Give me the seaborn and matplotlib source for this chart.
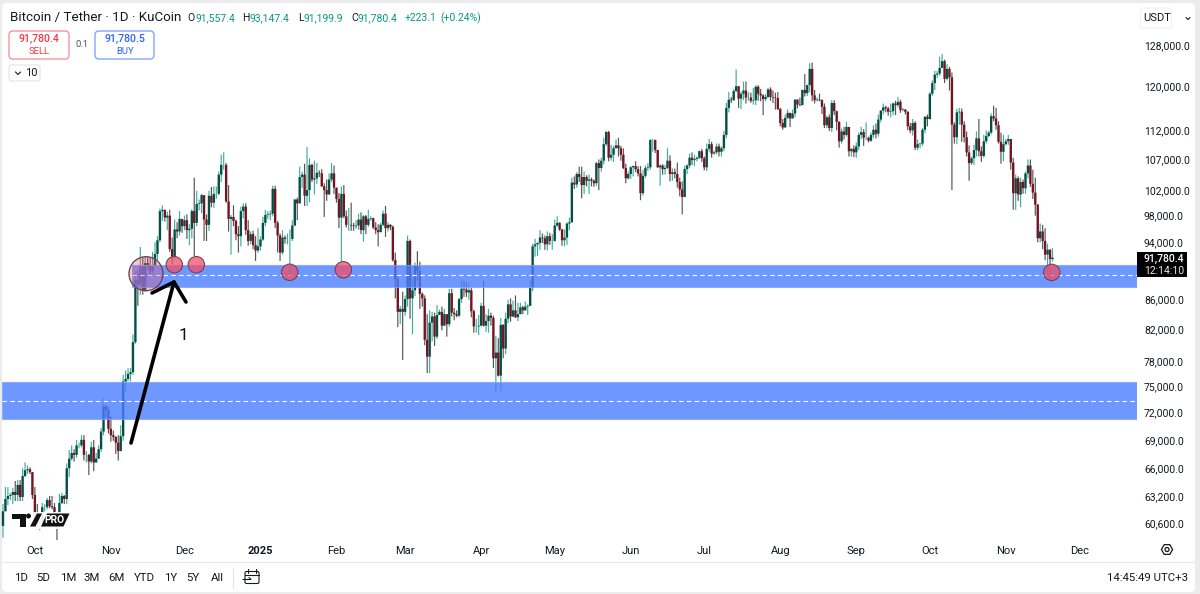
import numpy as np
import pandas as pd
import matplotlib
matplotlib.use("Agg")
import matplotlib.pyplot as plt
from matplotlib.patches import Rectangle, Circle, FancyBboxPatch, Polygon
import seaborn as sns

# Daily BTC/USDT closes, highs and lows in thousands of USDT, grouped by month
close_2024_sep = [61.7,62.9,63.2,63.3,63.6,63.3,64.3,63.1,65.2,65.8,65.9,65.6,63.3]
high_2024_sep = [62.4,64.1,64.1,63.5,64.0,64.7,64.8,64.8,66.0,66.6,66.3,66.1,65.6]
low_2024_sep = [59.2,61.7,62.3,62.8,62.4,62.7,62.7,62.7,62.7,65.1,65.4,65.4,62.9]

close_2024_oct = [60.8,60.6,60.7,62.1,62.1,62.8,62.2,62.1,60.6,60.3,62.5,63.2,62.9,66.0,67.0,67.6,67.4,68.4,68.4,69.0,67.4,67.4,66.7,68.2,66.6,67.0,68.0,69.9,72.7,72.3,70.2]
high_2024_oct = [64.1,62.4,61.5,62.5,62.4,63.0,63.2,63.2,62.5,61.3,63.4,63.5,63.3,66.5,67.9,68.4,68.0,69.0,68.7,69.5,69.5,67.8,67.5,68.8,69.0,67.6,68.4,70.3,73.6,72.9,72.7]
low_2024_oct = [60.2,60.0,59.9,60.4,61.7,61.9,62.0,61.9,60.3,58.9,60.3,62.4,62.4,62.4,65.1,66.8,66.7,67.1,68.1,68.2,66.8,66.6,65.3,66.5,65.7,66.7,67.4,67.7,69.5,71.5,69.7]

close_2024_nov = [69.5,69.3,68.7,67.8,69.4,75.6,75.9,76.5,76.7,80.4,88.6,88.0,90.5,87.2,91.0,90.6,89.8,90.5,92.3,94.3,98.7,98.9,97.7,98.0,93.0,91.9,95.9,95.6,97.5,96.4]
high_2024_nov = [71.6,70.0,69.4,69.5,70.6,76.4,76.9,77.2,77.2,81.4,89.6,90.0,93.3,91.8,91.9,91.8,91.7,92.6,94.0,94.9,99.1,99.6,98.9,98.6,98.9,94.7,97.4,97.0,98.7,97.4]
low_2024_nov = [68.8,68.9,67.5,66.8,67.8,68.9,74.4,75.6,75.6,76.4,80.2,85.1,86.6,86.6,87.0,90.0,89.3,89.4,90.9,91.4,94.0,97.2,97.1,95.8,92.6,90.8,91.5,94.6,95.0,95.4]

close_2024_dec = [97.3,95.8,96.0,98.7,96.9,99.8,99.9,101.2,97.4,96.6,101.1,100.0,101.4,101.4,104.5,106.1,106.1,100.2,97.5,97.8,97.2,95.2,94.9,98.7,99.4,95.8,94.2,95.2,93.6,92.8,93.4]
high_2024_dec = [98.0,98.2,96.7,99.0,104.0,101.9,100.5,101.4,101.2,98.2,101.9,102.5,102.6,102.6,105.0,107.8,108.2,106.4,102.8,98.1,99.6,97.4,96.4,99.4,99.9,99.9,97.3,95.6,95.7,94.9,96.1]
low_2024_dec = [95.8,94.5,93.6,94.6,92.0,96.4,98.8,98.4,94.2,94.2,95.7,99.3,99.2,100.6,101.2,103.3,105.3,100.0,95.6,92.2,96.4,94.3,92.5,93.4,97.6,95.1,93.5,93.7,93.0,91.3,92.5]

close_2025_jan = [94.4,96.9,98.1,98.2,98.3,102.2,96.9,95.0,92.5,94.7,94.5,94.5,94.5,96.5,100.5,99.9,104.1,104.5,101.1,102.0,106.1,103.7,103.9,104.8,104.7,102.6,102.0,101.3,103.7,104.7,102.4]
high_2025_jan = [94.9,97.8,98.9,98.7,98.8,102.7,102.7,97.2,95.3,95.8,95.0,95.3,95.9,97.3,100.6,100.8,105.8,105.0,106.3,109.1,107.2,106.3,106.8,106.4,105.2,105.4,103.1,103.7,104.7,106.4,106.0]
low_2025_jan = [92.8,94.2,96.4,97.5,97.3,97.9,96.1,92.5,91.3,92.2,93.8,93.7,89.3,94.2,96.4,97.3,99.9,102.3,99.5,99.5,100.1,103.3,101.3,103.0,104.1,102.5,97.8,100.3,101.3,103.3,101.4]

close_2025_feb = [100.6,97.7,101.4,97.9,96.6,96.6,96.5,96.4,96.5,97.4,95.8,97.9,96.6,97.5,97.6,96.2,95.8,95.5,96.6,98.3,96.1,96.6,96.3,91.4,88.7,84.3,84.7,84.3]
high_2025_feb = [102.0,101.5,102.6,102.8,98.8,99.2,100.0,96.9,97.3,98.3,98.5,98.1,98.1,98.9,97.9,97.7,97.0,96.7,96.9,98.8,99.5,97.0,96.7,96.5,92.5,89.4,85.1,87.0]
low_2025_feb = [100.0,96.1,91.2,97.6,96.2,95.7,95.7,95.7,96.0,95.9,95.2,94.1,95.2,96.3,97.2,96.0,95.2,93.4,95.5,96.4,94.8,95.6,95.8,91.2,86.1,82.3,82.7,78.2]

close_2025_mar = [86.0,94.2,86.1,87.2,90.6,89.9,86.7,86.1,80.7,78.6,82.9,83.7,81.1,83.9,84.3,82.5,84.0,82.7,86.8,84.2,84.0,83.8,86.0,87.4,87.3,86.9,87.2,84.4,82.4,82.4,82.5]
high_2025_mar = [86.5,95.0,94.4,88.9,91.1,92.7,91.2,86.9,86.5,84.0,84.5,84.3,84.2,85.2,84.6,85.0,84.7,84.0,87.4,87.4,84.8,84.5,86.2,88.7,88.5,88.3,88.0,87.5,84.6,83.4,83.9]
low_2025_mar = [83.8,85.0,83.4,81.4,86.4,88.5,84.7,85.0,80.0,76.6,76.6,80.5,79.9,80.8,83.9,81.9,82.5,81.1,82.4,83.7,83.2,83.6,83.6,85.5,86.3,86.3,85.9,83.6,81.6,81.6,81.3]

close_2025_apr = [85.1,82.5,83.1,83.8,83.5,78.4,79.1,76.3,82.6,79.6,83.4,85.3,83.7,84.5,83.6,84.0,84.9,84.5,85.0,85.1,87.5,93.4,93.7,93.9,94.7,94.6,93.7,94.9,94.2,94.2]
high_2025_apr = [85.5,88.5,84.0,84.7,84.2,83.8,81.2,80.9,83.5,82.7,84.2,85.9,86.1,85.8,86.5,85.5,85.5,85.1,85.7,85.3,88.5,93.8,94.5,94.0,95.8,95.3,95.0,95.6,95.4,95.2]
low_2025_apr = [82.4,82.4,81.7,81.6,82.5,77.2,74.4,76.2,74.5,78.4,78.9,82.8,83.0,83.6,83.5,83.1,84.1,84.0,84.5,83.9,85.1,87.1,91.9,92.0,92.9,93.9,92.9,92.8,93.6,92.9]

close_2025_may = [96.5,96.9,95.9,94.3,94.7,96.8,97.0,103.2,102.9,104.6,104.1,102.8,104.1,103.5,103.7,103.5,103.1,106.4,105.6,106.8,109.6,111.7,107.3,107.8,108.9,109.4,108.9,107.8,105.6,103.9,104.6]
high_2025_may = [97.4,97.9,97.0,96.0,95.9,97.0,97.7,104.0,104.2,104.9,105.8,105.8,105.0,104.4,104.5,104.0,103.7,106.6,107.0,107.3,110.7,111.9,111.9,109.5,109.3,110.4,110.7,109.3,108.9,106.3,105.0]
low_2025_may = [94.1,96.3,95.7,93.5,93.4,93.6,95.8,96.9,102.2,102.4,103.3,100.7,101.4,102.6,101.4,102.6,102.5,102.7,102.0,105.0,106.2,109.3,106.7,106.8,106.6,108.9,107.5,106.8,105.4,103.1,103.7]

close_2025_jun = [105.7,105.9,105.4,104.7,101.5,104.3,105.6,105.7,110.3,110.3,108.6,105.7,106.0,105.4,105.6,106.8,104.6,104.9,104.6,103.3,102.1,100.9,105.4,106.0,107.3,106.9,107.1,107.3,108.4,107.2]
high_2025_jun = [105.9,106.0,106.7,105.9,105.9,105.3,106.0,106.4,110.5,110.5,110.4,108.5,106.2,106.2,106.1,108.9,107.7,105.5,105.5,106.5,104.0,103.4,106.0,106.2,108.0,108.2,107.8,107.5,108.5,108.8]
low_2025_jun = [103.8,104.2,104.9,104.2,100.4,101.1,104.0,105.1,105.3,108.3,108.1,105.6,102.7,104.5,104.5,105.4,103.4,103.5,103.9,102.4,101.0,98.2,100.9,104.6,105.6,106.1,105.9,106.7,107.1,106.6]

close_2025_jul = [105.7,108.8,109.6,108.0,108.2,109.2,108.3,108.9,111.2,116.0,117.5,117.4,119.1,120.0,117.7,118.6,119.2,117.9,117.9,117.3,117.4,119.9,118.6,118.3,117.6,118.0,119.4,118.0,117.9,117.8,115.8]
high_2025_jul = [107.5,109.7,110.5,110.0,108.5,109.7,109.7,109.2,111.9,116.9,118.9,118.0,119.5,123.2,120.0,119.0,120.9,120.9,118.9,118.8,119.7,120.2,120.2,119.5,118.5,118.5,119.7,119.8,119.2,118.8,118.9]
low_2025_jul = [105.2,105.1,108.3,107.3,107.8,107.9,107.5,107.5,108.4,110.6,115.2,116.9,117.3,118.9,116.0,115.8,117.4,116.8,117.3,116.9,116.6,116.5,117.3,117.2,114.7,117.2,117.8,117.3,116.9,115.7,115.6]

close_2025_aug = [113.3,112.5,114.2,115.1,114.1,115.0,117.5,116.6,116.5,119.3,118.7,120.2,123.3,118.3,117.4,117.5,117.4,116.2,112.9,114.3,112.4,116.9,115.4,113.5,110.1,111.8,111.2,112.6,108.4,108.8,108.2]
high_2025_aug = [116.0,114.0,114.8,115.7,115.1,115.7,117.6,117.6,117.9,119.4,122.3,120.3,124.4,124.5,119.3,117.9,118.6,117.6,116.8,114.6,114.8,117.4,117.4,115.5,113.6,112.3,112.6,113.5,112.6,108.9,109.4]
low_2025_aug = [112.7,112.1,112.7,114.0,112.6,114.3,114.3,115.9,116.3,116.6,118.1,118.2,118.9,117.2,116.8,117.2,117.2,114.9,112.4,112.4,111.9,111.7,114.7,112.0,109.0,109.7,110.4,110.9,107.5,107.5,107.4]

close_2025_sep = [109.2,111.2,111.7,110.7,110.7,110.2,111.2,112.1,111.4,113.9,115.5,116.1,115.9,115.3,115.4,116.8,116.5,117.1,115.6,115.7,115.3,112.7,112.0,113.3,109.0,109.6,109.7,112.1,114.4,114.0]
high_2025_sep = [109.9,111.6,112.6,112.2,113.4,110.9,111.6,112.9,113.2,114.8,115.6,116.8,116.4,116.2,116.8,117.0,117.3,118.0,117.5,116.0,115.8,115.4,113.3,114.0,113.6,110.4,109.8,112.4,114.5,114.8]
low_2025_sep = [107.3,108.6,110.5,109.3,110.3,109.9,110.0,110.7,110.6,110.9,113.4,114.8,115.2,114.6,114.3,114.7,114.7,116.1,115.1,115.4,114.8,112.0,111.5,111.1,108.6,108.6,108.9,109.3,111.5,112.7]

close_2025_oct = [118.6,120.6,122.2,122.4,123.5,124.8,121.4,123.3,121.7,113.0,110.8,115.2,115.3,113.0,110.8,108.2,106.4,107.2,108.6,110.6,108.4,107.6,110.1,111.0,111.6,114.5,114.1,112.9,110.0,108.3,109.6]
high_2025_oct = [118.9,121.1,122.9,122.9,125.7,126.2,125.1,124.2,123.7,122.6,113.4,115.8,116.0,115.9,113.6,111.8,109.4,107.5,109.5,111.8,114.0,109.2,111.2,112.0,111.9,115.0,116.4,116.0,113.6,111.6,111.2]
low_2025_oct = [113.9,118.2,119.3,121.6,122.0,123.9,120.6,121.1,119.2,102.0,109.7,109.6,113.0,110.0,109.9,107.5,103.5,106.1,106.1,107.5,107.5,106.6,107.3,109.7,110.8,111.3,113.6,112.1,109.7,106.3,106.7]

close_2025_nov = [110.1,110.5,106.5,101.5,103.9,101.3,103.3,102.3,104.7,106.0,103.0,101.6,99.7,94.6,95.6,94.2,92.2,92.9,91.5574,91.7804]
high_2025_nov = [110.5,111.2,110.5,107.3,104.5,104.2,104.0,103.7,105.0,107.0,107.0,105.3,104.0,99.8,96.8,96.6,96.1,93.8,93.0,93.1474]
low_2025_nov = [109.4,109.5,105.3,98.9,98.9,100.3,99.3,101.4,101.4,103.9,102.5,100.6,98.0,94.0,94.0,93.0,91.4,89.2,88.6,91.1999]

first_open = 60.3

zone_upper = (87.59, 90.73, 89.32)
zone_lower = (71.30, 75.49, 73.35)

price_ticks = [128000, 120000, 112000, 107000, 102000, 98000, 94000, 86000,
               82000, 78000, 75000, 72000, 69000, 66000, 63200, 60600]
month_ticks = ["2024-10-01", "2024-11-01", "2024-12-01", "2025-01-01", "2025-02-01",
               "2025-03-01", "2025-04-01", "2025-05-01", "2025-06-01", "2025-07-01",
               "2025-08-01", "2025-09-01", "2025-10-01", "2025-11-01", "2025-12-01"]
month_labels = ["Oct", "Nov", "Dec", "2025", "Feb", "Mar", "Apr", "May", "Jun", "Jul",
                "Aug", "Sep", "Oct", "Nov", "Dec"]
range_buttons = [("1D", 21), ("5D", 43.5), ("1M", 68), ("3M", 92), ("6M", 116.5),
                 ("YTD", 144), ("1Y", 171), ("5Y", 193), ("All", 217)]

closes = np.array(close_2024_sep + close_2024_oct + close_2024_nov + close_2024_dec +
                  close_2025_jan + close_2025_feb + close_2025_mar + close_2025_apr +
                  close_2025_may + close_2025_jun + close_2025_jul + close_2025_aug +
                  close_2025_sep + close_2025_oct + close_2025_nov) * 1000
highs = np.array(high_2024_sep + high_2024_oct + high_2024_nov + high_2024_dec +
                 high_2025_jan + high_2025_feb + high_2025_mar + high_2025_apr +
                 high_2025_may + high_2025_jun + high_2025_jul + high_2025_aug +
                 high_2025_sep + high_2025_oct + high_2025_nov) * 1000
lows = np.array(low_2024_sep + low_2024_oct + low_2024_nov + low_2024_dec +
                low_2025_jan + low_2025_feb + low_2025_mar + low_2025_apr +
                low_2025_may + low_2025_jun + low_2025_jul + low_2025_aug +
                low_2025_sep + low_2025_oct + low_2025_nov) * 1000
opens = np.concatenate([[first_open * 1000], closes[:-1]])
highs = np.maximum.reduce([highs, opens, closes])
lows = np.minimum.reduce([lows, opens, closes])

dates = pd.date_range("2024-09-18", periods=len(closes), freq="D")
days = np.arange(len(closes))
direction = np.where(closes >= opens, "up", "down")

wicks = pd.concat([
    pd.DataFrame({"day": days, "price": lows, "direction": direction}),
    pd.DataFrame({"day": days, "price": highs, "direction": direction}),
])
bodies = pd.concat([
    pd.DataFrame({"day": days, "price": opens, "direction": direction}),
    pd.DataFrame({"day": days, "price": closes, "direction": direction}),
])

sns.set_theme(style="white")
FONT = ["Roboto", "DejaVu Sans"]
plt.rcParams["font.family"] = FONT

W, H = 1200, 594
PANE_R, PANE_B = 1137, 540
fig = plt.figure(figsize=(W / 100, H / 100), dpi=100, facecolor="#ececec")

# Pixel-addressed layer behind the chart for the window frame and toolbars
back = fig.add_axes([0, 0, 1, 1], zorder=0)
back.set_xlim(0, W)
back.set_ylim(H, 0)
back.axis("off")
back.add_patch(FancyBboxPatch((2, 3), 1193, 589, boxstyle="round,pad=0,rounding_size=5",
                              fc="white", ec="none"))
back.plot([2, 1195], [561.5, 561.5], color="#e9e9ec", lw=0.8)
back.plot([233, 233], [568, 588], color="#e3e3e6", lw=0.8)

# Price pane with a log axis on the right and one slot per day
ax = fig.add_axes([0, 1 - PANE_B / H, PANE_R / W, PANE_B / H], zorder=1)
ax.patch.set_alpha(0)
ax.set_yscale("log")
px_per_day = 2.452
ax.set_xlim(-3 / px_per_day, (PANE_R - 3) / px_per_day)
ax.set_ylim(128000 * np.exp(-495 / 639), 128000 * np.exp(45 / 639))

sns.lineplot(data=wicks, x="day", y="price", units="day", hue="direction",
             palette={"up": "#3fae9b", "down": "#555555"}, estimator=None, errorbar=None,
             legend=False, linewidth=0.85, solid_capstyle="butt", ax=ax, zorder=2)
sns.lineplot(data=bodies, x="day", y="price", units="day", hue="direction",
             palette={"up": "#034f45", "down": "#741420"}, estimator=None, errorbar=None,
             legend=False, linewidth=1.7, solid_capstyle="butt", ax=ax, zorder=2.1)
for line in ax.lines:
    line.set_snap(False)

# Support zones with their dashed mid lines
def draw_zone(start_day, bottom, top, mid):
    left = start_day
    right = ax.get_xlim()[1]
    ax.add_patch(Rectangle((left, bottom * 1000), right - left, (top - bottom) * 1000,
                           fc="#4a7dff", ec="#7fa2ff", lw=0.8, alpha=0.8, zorder=3))
    ax.plot([left, right], [mid * 1000, mid * 1000], color="white", lw=0.8,
            dashes=(4, 3), zorder=3.1)

draw_zone(-0.4, *zone_lower)
draw_zone(52.6, *zone_upper)

ax.set_ylabel("")
ax.set_xlabel("")
ax.yaxis.tick_right()
ax.set_yticks(price_ticks)
ax.set_yticklabels([f"{p:,.1f}" for p in price_ticks], fontsize=7.5, color="#131722")
ax.minorticks_off()
ax.tick_params(axis="y", length=0, pad=5, which="both")
tick_days = [(pd.Timestamp(d) - dates[0]).days for d in month_ticks]
ax.set_xticks(tick_days)
ax.set_xticklabels(month_labels, fontsize=8, color="#131722")
ax.tick_params(axis="x", length=0, pad=4.5)
for lab in ax.get_xticklabels():
    if lab.get_text() == "2025":
        lab.set_fontweight("bold")
sns.despine(ax=ax, left=True, bottom=True, right=True, top=True)

# Pixel-addressed layer above the chart for drawings and interface widgets
top = fig.add_axes([0, 0, 1, 1], zorder=2)
top.set_xlim(0, W)
top.set_ylim(H, 0)
top.axis("off")
top.patch.set_alpha(0)

def label(x, y, s, size=8, color="#131722", ha="left", weight="normal"):
    top.text(x, y, s, fontsize=size, color=color, ha=ha, va="center", fontweight=weight,
             family=FONT)

# Markup: circled touches of the zone and the numbered arrow
top.add_patch(Circle((146, 273.7), 17, fc="#f0506e", ec="#5a3a4c", lw=0.8, alpha=0.32, zorder=3))
top.add_patch(Circle((146, 273.7), 17, fc="none", ec="#6a4558", lw=0.9, zorder=3))
for cx, cy in [(174.3, 264.7), (196.3, 264.7), (289.7, 272.3), (343.3, 269.8), (1051.7, 272.4)]:
    top.add_patch(Circle((cx, cy), 8.2, fc="#ee4f6a", alpha=0.75, ec="none", zorder=3))
    top.add_patch(Circle((cx, cy), 8.2, fc="none", ec="#7b4152", lw=0.8, zorder=3))
arrow_style = dict(color="black", lw=2.6, solid_capstyle="round", solid_joinstyle="round", zorder=4)
top.plot([131, 174], [443, 282], **arrow_style)
top.plot([152, 174, 186], [293, 282, 302], **arrow_style)
label(183.5, 335, "1", size=12.5, color="#111111", ha="center")

# Header line
label(10, 18, "Bitcoin / Tether · 1D · KuCoin", size=9.6)
green = "#089981"
for x, s, c in [(187, "O", "#131722"), (195, "91,557.4", green), (242, "H", "#131722"),
                (250, "93,147.4", green), (298, "L", "#131722"), (304, "91,199.9", green),
                (351, "C", "#131722"), (358, "91,780.4", green), (405, "+223.1", green),
                (440, "(+0.24%)", green)]:
    label(x, 18, s, size=7.5, color=c)

# Sell and buy buttons, order size and the collapsed indicator counter
top.add_patch(FancyBboxPatch((9, 31), 60, 28, boxstyle="round,pad=0,rounding_size=4",
                             fc="white", ec="#f7929e", lw=1))
top.add_patch(FancyBboxPatch((95, 31), 59, 28, boxstyle="round,pad=0,rounding_size=4",
                             fc="white", ec="#82a6ff", lw=1))
label(39, 39, "91,780.4", size=7.6, color="#f23645", ha="center", weight="medium")
label(39, 51, "SELL", size=6.8, color="#f23645", ha="center")
label(125, 39, "91,780.5", size=7.6, color="#2962ff", ha="center", weight="medium")
label(125, 51, "BUY", size=6.8, color="#2962ff", ha="center")
label(82, 44.5, "0.1", size=6.8, color="#50535e", ha="center")
top.add_patch(FancyBboxPatch((9, 65), 31, 16, boxstyle="round,pad=0,rounding_size=2",
                             fc="white", ec="#e3e3e6", lw=0.8))
top.plot([15.5, 18, 20.5], [72, 74.5, 72], color="#131722", lw=0.8)
label(31, 73, "10", size=8, color="#131722", ha="center")

# Currency selector
top.add_patch(FancyBboxPatch((1140.5, 8), 31, 20, boxstyle="round,pad=0,rounding_size=3",
                             fc="white", ec="#f0f0f2", lw=0.8))
label(1143, 18, "USDT", size=8)
top.plot([1186, 1188, 1190], [17.5, 19.5, 17.5], color="#131722", lw=0.8)

# Last price tag
top.add_patch(Rectangle((1137, 252), 50, 25, fc="black", ec="none"))
label(1184, 258.5, "91,780.4", size=7.5, color="white", ha="right", weight="medium")
label(1184, 270.5, "12:14:10", size=7.5, color="#e8e8e8", ha="right")

# TradingView PRO badge on a white backing
top.add_patch(Rectangle((10, 511.5), 61, 17, fc="white", ec="none", alpha=0.9))
top.add_patch(Polygon([[12, 513.5], [25.5, 513.5], [25.5, 526.5], [19.5, 526.5], [19.5, 518.5], [12, 518.5]],
                      fc="#111111", ec="none"))
top.add_patch(Circle((28.5, 516), 2.5, fc="#111111", ec="none"))
top.add_patch(Polygon([[30, 526.5], [37, 513.5], [42, 513.5], [35.5, 526.5]], fc="#111111", ec="none"))
top.add_patch(Polygon([[41, 526.5], [47, 513.5], [69.5, 513.5], [63.5, 526.5]], fc="#111111", ec="none"))
label(54.5, 520, "PRO", size=7.4, color="white", ha="center", weight="bold")

# Settings hexagon on the time axis
angles = np.deg2rad(np.arange(0, 360, 60))
top.add_patch(Polygon(np.column_stack([1167 + 5.6 * np.cos(angles), 549.5 + 5.6 * np.sin(angles)]),
                      fc="none", ec="#131722", lw=0.9))
top.add_patch(Circle((1167, 549.5), 2, fc="none", ec="#131722", lw=0.9))

# Range buttons, calendar icon and clock along the bottom toolbar
for text, x in range_buttons:
    label(x, 578, text, size=8.2, ha="center")
top.add_patch(FancyBboxPatch((245, 571.5), 14, 12, boxstyle="round,pad=0,rounding_size=1.5",
                             fc="none", ec="#131722", lw=0.8))
top.plot([245, 259], [575, 575], color="#131722", lw=0.8)
top.plot([248, 248], [569, 573], color="#131722", lw=0.8)
top.plot([256, 256], [569, 573], color="#131722", lw=0.8)
top.plot([243, 251, 249], [579.5, 579.5, 577.5], color="#131722", lw=0.8)
label(1188, 578, "14:45:49 UTC+3", size=8.2, ha="right")

fig.savefig("out.png", dpi=100, facecolor=fig.get_facecolor())
